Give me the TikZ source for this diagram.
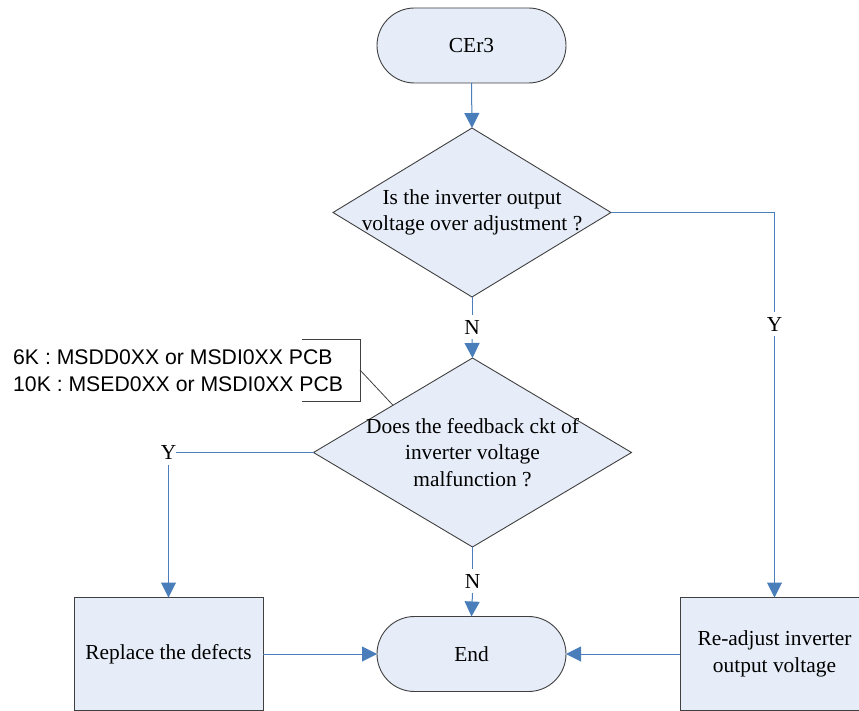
\documentclass[tikz,border=0pt]{standalone}
\usepackage{fontspec}
\setmainfont{Liberation Serif}
\newfontfamily\notefont{Liberation Sans}
\usetikzlibrary{shapes.geometric,arrows.meta,calc}
\definecolor{boxfill}{RGB}{230,237,248}
\definecolor{flowblue}{RGB}{74,126,187}
\definecolor{edgegray}{RGB}{64,64,64}
\begin{document}
\begin{tikzpicture}[x=1pt,y=-1pt,
  every node/.style={font=\fontsize{21.4}{26.5}\selectfont},
  shapeline/.style={draw=edgegray,line width=0.9pt,fill=boxfill,outer sep=0pt},
  terminal/.style={shapeline,rectangle,rounded corners=37.5pt,
    minimum width=189pt,minimum height=75pt,inner sep=0pt},
  decision/.style={shapeline,diamond,inner sep=0pt},
  process/.style={shapeline,rectangle,minimum width=189pt,
    minimum height=113pt,inner sep=0pt,align=center},
  qtext/.style={align=center,inner sep=0pt},
  lbl/.style={inner xsep=1pt,inner ysep=5pt},
  flow/.style={draw=flowblue,line width=1pt},
  arrow/.style={flow,-{Triangle[length=15pt,width=15pt]}},
  bracket/.style={draw=edgegray,line width=0.8pt},
  note/.style={font={\notefont\fontsize{21.2}{27}\selectfont},align=left,inner sep=0pt}
]
\useasboundingbox (0,0) rectangle (859,711);

% terminals
\node[terminal] (start) at (471.5,45.5) {CEr3};
\node[terminal] (end) at (471.5,654) {End};

% decisions
\node[decision,minimum width=278pt,minimum height=169pt] (d1) at (472,212.5) {};
\node[qtext] (d1text) at (d1) {Is the inverter output\\voltage over adjustment ?};
\node[decision,minimum width=318pt,minimum height=189pt] (d2) at (472.5,452.5) {};
\node[qtext] (d2text) at (d2) {Does the feedback ckt of\\inverter voltage\\malfunction ?};

% actions
\node[process] (replace) at (168.5,654) {Replace the defects};
\node[process] (fix) at (774.5,654) {Re-adjust inverter\\output voltage};

% branch labels
\node[lbl] (n1) at (472,327) {N};
\node[lbl] (n2) at (472.5,581) {N};
\node[lbl] (y1) at (774.5,324) {Y};
\node[lbl,inner xsep=0pt] (y2) at (168.5,452.5) {Y};

% connectors
\draw[arrow] (start.south) -- (d1.north);
\draw[flow] (d1.south) -- (n1.north);
\draw[arrow] (n1.south) -- (d2.north);
\draw[flow] (d1.east) -| (y1.north);
\draw[arrow] (y1.south) -- (fix.north);
\draw[flow] (d2.west) -- (y2.east);
\draw[arrow] (y2.south) -- (replace.north);
\draw[flow] (d2.south) -- (n2.north);
\draw[arrow] (n2.south) -- (end.north);
\draw[arrow] (replace.east) -- (end.west);
\draw[arrow] (fix.west) -- (end.east);

% annotation for the feedback board
\node[note,anchor=west] (pcb) at (13,370.5) {6K : MSDD0XX or MSDI0XX PCB\\10K : MSED0XX or MSDI0XX PCB};
\draw[bracket] (302,339) -- (360,339) -- (360,401) -- (302,401);
\coordinate (pcbtip) at (360,370);
\draw[bracket] (pcbtip) -- ($(d2.north)!0.5!(d2.west)$);
\end{tikzpicture}
\end{document}
